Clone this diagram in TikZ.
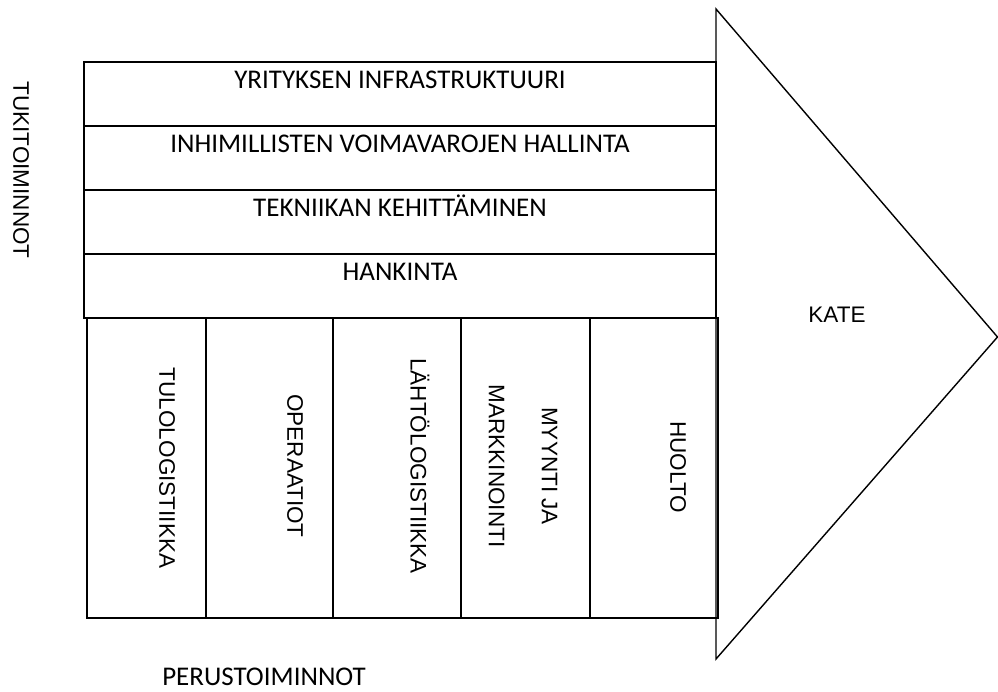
\documentclass[tikz,border=0pt]{standalone}
\usepackage{fontspec}
\setmainfont{Liberation Sans}
\newfontfamily\calfont{Carlito}
\begin{document}
\begin{tikzpicture}[x=1pt,y=-1pt,
  frame/.style={draw=black,line width=1.6pt},
  rowbox/.style={frame,rectangle,minimum width=632pt,minimum height=64pt,inner sep=0pt},
  colbox/.style={frame,rectangle,minimum height=300pt,inner sep=0pt},
  rowtext/.style={font=\calfont\fontsize{27}{30}\selectfont,inner sep=0pt,anchor=base},
  coltext/.style={font=\fontsize{22.5}{53}\selectfont,inner sep=0pt,rotate=-90,align=center},
  sidetext/.style={font=\fontsize{22.5}{26}\selectfont,inner sep=0pt}]
\useasboundingbox (0,0) rectangle (998,691);

% margin arrow
\draw[line width=1.4pt,line join=miter] (716,9) -- (997.5,337) -- (716,659) -- cycle;
\node[sidetext] (kate) at (837,315) {KATE};

% support activities
\node[rowbox] (r1) at (400,94) {};
\node[rowbox] (r2) at (400,158) {};
\node[rowbox] (r3) at (400,222) {};
\node[rowbox] (r4) at (400,286) {};
\node[rowtext] (t1) at ([yshift=-27pt]r1.north) {YRITYKSEN INFRASTRUKTUURI};
\node[rowtext] (t2) at ([yshift=-27pt]r2.north) {INHIMILLISTEN VOIMAVAROJEN HALLINTA};
\node[rowtext] (t3) at ([yshift=-27pt]r3.north) {TEKNIIKAN KEHITTÄMINEN};
\node[rowtext] (t4) at ([yshift=-27pt]r4.north) {HANKINTA};

% primary activities
\node[colbox,minimum width=119pt] (c1) at (146.5,468) {};
\node[colbox,minimum width=127pt] (c2) at (269.5,468) {};
\node[colbox,minimum width=128pt] (c3) at (397,468) {};
\node[colbox,minimum width=129pt] (c4) at (525.5,468) {};
\node[colbox,minimum width=128pt] (c5) at (654,468) {};
\node[coltext] (l1) at (167,468) {TULOLOGISTIIKKA};
\node[coltext] (l2) at (295,466) {OPERAATIOT};
\node[coltext] (l3) at (420,466) {LÄHTÖLOGISTIIKKA};
\node[coltext] (l4) at (523,466) {MYYNTI JA\\MARKKINOINTI};
\node[coltext] (l5) at (678,467) {HUOLTO};

% group labels
\node[sidetext,rotate=-90] (sup) at (21,170) {TUKITOIMINNOT};
\node[font=\calfont\fontsize{27}{30}\selectfont,inner sep=0pt] (prim) at (264,677) {PERUSTOIMINNOT};
\end{tikzpicture}
\end{document}
